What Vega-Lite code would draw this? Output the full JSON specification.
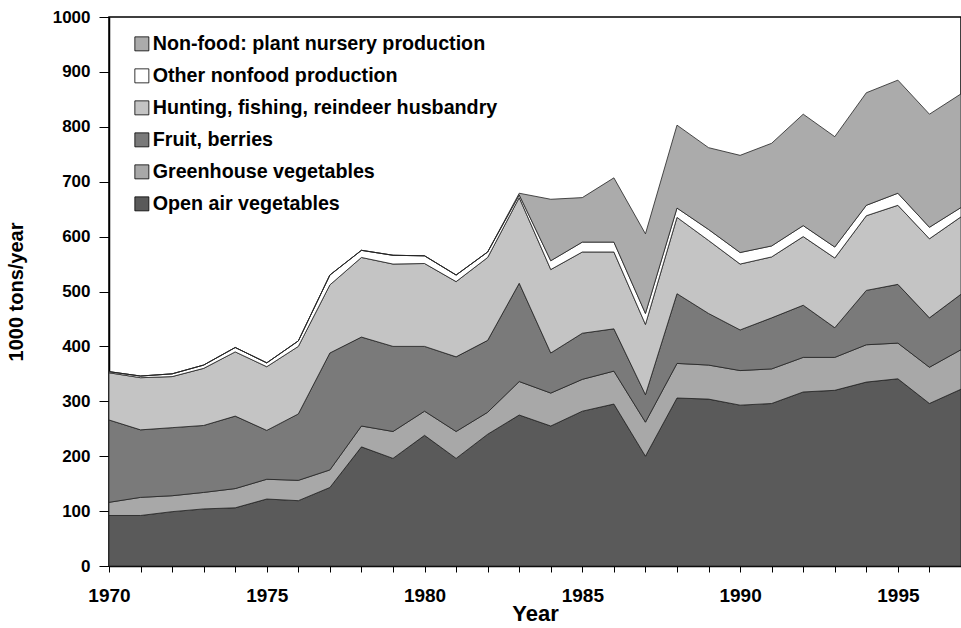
{
  "$schema": "https://vega.github.io/schema/vega-lite/v6.json",
  "autosize": "none",
  "width": 852,
  "height": 549,
  "padding": {"left": 109, "top": 17, "right": 0, "bottom": 62},
  "background": "white",
  "config": {
    "font": "Liberation Sans",
    "view": {"stroke": "black", "strokeWidth": 1.5},
    "axis": {"grid": false, "domainColor": "black", "tickColor": "black", "labelColor": "black", "titleColor": "black", "labelFontWeight": "bold", "titleFontWeight": "bold", "domainWidth": 1.5}
  },
  "data": {"values": [
    {"year":1970,"c":"Open air vegetables","v":92},{"year":1970,"c":"Greenhouse vegetables","v":24},{"year":1970,"c":"Fruit, berries","v":150},{"year":1970,"c":"Hunting, fishing, reindeer husbandry","v":86},{"year":1970,"c":"Other nonfood production","v":2},{"year":1970,"c":"Non-food: plant nursery production","v":0},
    {"year":1971,"c":"Open air vegetables","v":92},{"year":1971,"c":"Greenhouse vegetables","v":33},{"year":1971,"c":"Fruit, berries","v":123},{"year":1971,"c":"Hunting, fishing, reindeer husbandry","v":95},{"year":1971,"c":"Other nonfood production","v":3},{"year":1971,"c":"Non-food: plant nursery production","v":0},
    {"year":1972,"c":"Open air vegetables","v":99},{"year":1972,"c":"Greenhouse vegetables","v":29},{"year":1972,"c":"Fruit, berries","v":124},{"year":1972,"c":"Hunting, fishing, reindeer husbandry","v":93},{"year":1972,"c":"Other nonfood production","v":5},{"year":1972,"c":"Non-food: plant nursery production","v":0},
    {"year":1973,"c":"Open air vegetables","v":104},{"year":1973,"c":"Greenhouse vegetables","v":30},{"year":1973,"c":"Fruit, berries","v":122},{"year":1973,"c":"Hunting, fishing, reindeer husbandry","v":104},{"year":1973,"c":"Other nonfood production","v":6},{"year":1973,"c":"Non-food: plant nursery production","v":0},
    {"year":1974,"c":"Open air vegetables","v":106},{"year":1974,"c":"Greenhouse vegetables","v":35},{"year":1974,"c":"Fruit, berries","v":132},{"year":1974,"c":"Hunting, fishing, reindeer husbandry","v":117},{"year":1974,"c":"Other nonfood production","v":8},{"year":1974,"c":"Non-food: plant nursery production","v":0},
    {"year":1975,"c":"Open air vegetables","v":122},{"year":1975,"c":"Greenhouse vegetables","v":36},{"year":1975,"c":"Fruit, berries","v":89},{"year":1975,"c":"Hunting, fishing, reindeer husbandry","v":116},{"year":1975,"c":"Other nonfood production","v":7},{"year":1975,"c":"Non-food: plant nursery production","v":0},
    {"year":1976,"c":"Open air vegetables","v":119},{"year":1976,"c":"Greenhouse vegetables","v":37},{"year":1976,"c":"Fruit, berries","v":121},{"year":1976,"c":"Hunting, fishing, reindeer husbandry","v":123},{"year":1976,"c":"Other nonfood production","v":10},{"year":1976,"c":"Non-food: plant nursery production","v":0},
    {"year":1977,"c":"Open air vegetables","v":143},{"year":1977,"c":"Greenhouse vegetables","v":32},{"year":1977,"c":"Fruit, berries","v":213},{"year":1977,"c":"Hunting, fishing, reindeer husbandry","v":124},{"year":1977,"c":"Other nonfood production","v":18},{"year":1977,"c":"Non-food: plant nursery production","v":0},
    {"year":1978,"c":"Open air vegetables","v":217},{"year":1978,"c":"Greenhouse vegetables","v":38},{"year":1978,"c":"Fruit, berries","v":162},{"year":1978,"c":"Hunting, fishing, reindeer husbandry","v":145},{"year":1978,"c":"Other nonfood production","v":13},{"year":1978,"c":"Non-food: plant nursery production","v":0},
    {"year":1979,"c":"Open air vegetables","v":196},{"year":1979,"c":"Greenhouse vegetables","v":49},{"year":1979,"c":"Fruit, berries","v":155},{"year":1979,"c":"Hunting, fishing, reindeer husbandry","v":150},{"year":1979,"c":"Other nonfood production","v":16},{"year":1979,"c":"Non-food: plant nursery production","v":0},
    {"year":1980,"c":"Open air vegetables","v":238},{"year":1980,"c":"Greenhouse vegetables","v":44},{"year":1980,"c":"Fruit, berries","v":118},{"year":1980,"c":"Hunting, fishing, reindeer husbandry","v":151},{"year":1980,"c":"Other nonfood production","v":14},{"year":1980,"c":"Non-food: plant nursery production","v":0},
    {"year":1981,"c":"Open air vegetables","v":196},{"year":1981,"c":"Greenhouse vegetables","v":49},{"year":1981,"c":"Fruit, berries","v":136},{"year":1981,"c":"Hunting, fishing, reindeer husbandry","v":137},{"year":1981,"c":"Other nonfood production","v":12},{"year":1981,"c":"Non-food: plant nursery production","v":0},
    {"year":1982,"c":"Open air vegetables","v":240},{"year":1982,"c":"Greenhouse vegetables","v":40},{"year":1982,"c":"Fruit, berries","v":131},{"year":1982,"c":"Hunting, fishing, reindeer husbandry","v":151},{"year":1982,"c":"Other nonfood production","v":10},{"year":1982,"c":"Non-food: plant nursery production","v":0},
    {"year":1983,"c":"Open air vegetables","v":275},{"year":1983,"c":"Greenhouse vegetables","v":61},{"year":1983,"c":"Fruit, berries","v":179},{"year":1983,"c":"Hunting, fishing, reindeer husbandry","v":156},{"year":1983,"c":"Other nonfood production","v":5},{"year":1983,"c":"Non-food: plant nursery production","v":3},
    {"year":1984,"c":"Open air vegetables","v":255},{"year":1984,"c":"Greenhouse vegetables","v":60},{"year":1984,"c":"Fruit, berries","v":73},{"year":1984,"c":"Hunting, fishing, reindeer husbandry","v":152},{"year":1984,"c":"Other nonfood production","v":16},{"year":1984,"c":"Non-food: plant nursery production","v":112},
    {"year":1985,"c":"Open air vegetables","v":282},{"year":1985,"c":"Greenhouse vegetables","v":58},{"year":1985,"c":"Fruit, berries","v":84},{"year":1985,"c":"Hunting, fishing, reindeer husbandry","v":148},{"year":1985,"c":"Other nonfood production","v":18},{"year":1985,"c":"Non-food: plant nursery production","v":81},
    {"year":1986,"c":"Open air vegetables","v":295},{"year":1986,"c":"Greenhouse vegetables","v":60},{"year":1986,"c":"Fruit, berries","v":77},{"year":1986,"c":"Hunting, fishing, reindeer husbandry","v":140},{"year":1986,"c":"Other nonfood production","v":18},{"year":1986,"c":"Non-food: plant nursery production","v":117},
    {"year":1987,"c":"Open air vegetables","v":200},{"year":1987,"c":"Greenhouse vegetables","v":62},{"year":1987,"c":"Fruit, berries","v":50},{"year":1987,"c":"Hunting, fishing, reindeer husbandry","v":128},{"year":1987,"c":"Other nonfood production","v":20},{"year":1987,"c":"Non-food: plant nursery production","v":145},
    {"year":1988,"c":"Open air vegetables","v":306},{"year":1988,"c":"Greenhouse vegetables","v":63},{"year":1988,"c":"Fruit, berries","v":127},{"year":1988,"c":"Hunting, fishing, reindeer husbandry","v":139},{"year":1988,"c":"Other nonfood production","v":17},{"year":1988,"c":"Non-food: plant nursery production","v":151},
    {"year":1989,"c":"Open air vegetables","v":304},{"year":1989,"c":"Greenhouse vegetables","v":62},{"year":1989,"c":"Fruit, berries","v":94},{"year":1989,"c":"Hunting, fishing, reindeer husbandry","v":133},{"year":1989,"c":"Other nonfood production","v":20},{"year":1989,"c":"Non-food: plant nursery production","v":149},
    {"year":1990,"c":"Open air vegetables","v":293},{"year":1990,"c":"Greenhouse vegetables","v":63},{"year":1990,"c":"Fruit, berries","v":74},{"year":1990,"c":"Hunting, fishing, reindeer husbandry","v":120},{"year":1990,"c":"Other nonfood production","v":21},{"year":1990,"c":"Non-food: plant nursery production","v":177},
    {"year":1991,"c":"Open air vegetables","v":296},{"year":1991,"c":"Greenhouse vegetables","v":63},{"year":1991,"c":"Fruit, berries","v":93},{"year":1991,"c":"Hunting, fishing, reindeer husbandry","v":111},{"year":1991,"c":"Other nonfood production","v":20},{"year":1991,"c":"Non-food: plant nursery production","v":187},
    {"year":1992,"c":"Open air vegetables","v":317},{"year":1992,"c":"Greenhouse vegetables","v":63},{"year":1992,"c":"Fruit, berries","v":95},{"year":1992,"c":"Hunting, fishing, reindeer husbandry","v":125},{"year":1992,"c":"Other nonfood production","v":20},{"year":1992,"c":"Non-food: plant nursery production","v":203},
    {"year":1993,"c":"Open air vegetables","v":320},{"year":1993,"c":"Greenhouse vegetables","v":60},{"year":1993,"c":"Fruit, berries","v":54},{"year":1993,"c":"Hunting, fishing, reindeer husbandry","v":127},{"year":1993,"c":"Other nonfood production","v":20},{"year":1993,"c":"Non-food: plant nursery production","v":201},
    {"year":1994,"c":"Open air vegetables","v":335},{"year":1994,"c":"Greenhouse vegetables","v":68},{"year":1994,"c":"Fruit, berries","v":99},{"year":1994,"c":"Hunting, fishing, reindeer husbandry","v":136},{"year":1994,"c":"Other nonfood production","v":19},{"year":1994,"c":"Non-food: plant nursery production","v":205},
    {"year":1995,"c":"Open air vegetables","v":341},{"year":1995,"c":"Greenhouse vegetables","v":65},{"year":1995,"c":"Fruit, berries","v":107},{"year":1995,"c":"Hunting, fishing, reindeer husbandry","v":144},{"year":1995,"c":"Other nonfood production","v":22},{"year":1995,"c":"Non-food: plant nursery production","v":206},
    {"year":1996,"c":"Open air vegetables","v":296},{"year":1996,"c":"Greenhouse vegetables","v":66},{"year":1996,"c":"Fruit, berries","v":90},{"year":1996,"c":"Hunting, fishing, reindeer husbandry","v":144},{"year":1996,"c":"Other nonfood production","v":21},{"year":1996,"c":"Non-food: plant nursery production","v":206},
    {"year":1997,"c":"Open air vegetables","v":322},{"year":1997,"c":"Greenhouse vegetables","v":72},{"year":1997,"c":"Fruit, berries","v":101},{"year":1997,"c":"Hunting, fishing, reindeer husbandry","v":141},{"year":1997,"c":"Other nonfood production","v":17},{"year":1997,"c":"Non-food: plant nursery production","v":207}
  ]},
  "transform": [
    {"calculate": "indexof(['Open air vegetables','Greenhouse vegetables','Fruit, berries','Hunting, fishing, reindeer husbandry','Other nonfood production','Non-food: plant nursery production'], datum.c)", "as": "ord"}
  ],
  "mark": {"type": "area", "stroke": "#222", "strokeWidth": 0.8, "strokeJoin": "miter"},
  "encoding": {
    "x": {"field": "year", "type": "quantitative", "scale": {"domain": [1970, 1997], "nice": false, "zero": false},
      "axis": {"title": "Year", "values": [1970,1971,1972,1973,1974,1975,1976,1977,1978,1979,1980,1981,1982,1983,1984,1985,1986,1987,1988,1989,1990,1991,1992,1993,1994,1995,1996,1997], "labelExpr": "datum.value % 5 === 0 ? datum.value : ''", "format": "d", "labelFontSize": 19, "titleFontSize": 22, "tickSize": 6, "labelPadding": 14, "titlePadding": -2, "labelFlush": false, "labelOverlap": false}},
    "y": {"field": "v", "type": "quantitative", "stack": "zero", "scale": {"domain": [0, 1000], "nice": false},
      "axis": {"title": "1000 tons/year", "values": [0,100,200,300,400,500,600,700,800,900,1000], "format": "d", "labelFontSize": 17, "titleFontSize": 20, "tickSize": 10, "labelPadding": 9, "titlePadding": 26, "labelFlush": false}},
    "order": {"field": "ord", "type": "quantitative"},
    "color": {"field": "c", "type": "nominal",
      "scale": {"domain": ["Non-food: plant nursery production", "Other nonfood production", "Hunting, fishing, reindeer husbandry", "Fruit, berries", "Greenhouse vegetables", "Open air vegetables"],
                "range": ["#ababab", "#ffffff", "#c4c4c4", "#7a7a7a", "#a8a8a8", "#5a5a5a"]},
      "legend": {"title": null, "orient": "none", "legendX": 23, "legendY": 17, "symbolType": "square", "symbolSize": 196, "symbolStrokeColor": "black", "symbolStrokeWidth": 0.8, "labelFontSize": 19.7, "labelFontWeight": "bold", "labelColor": "black", "labelLimit": 0, "rowPadding": 11, "labelOffset": 1, "fillColor": null, "strokeColor": null}}
  }
}
